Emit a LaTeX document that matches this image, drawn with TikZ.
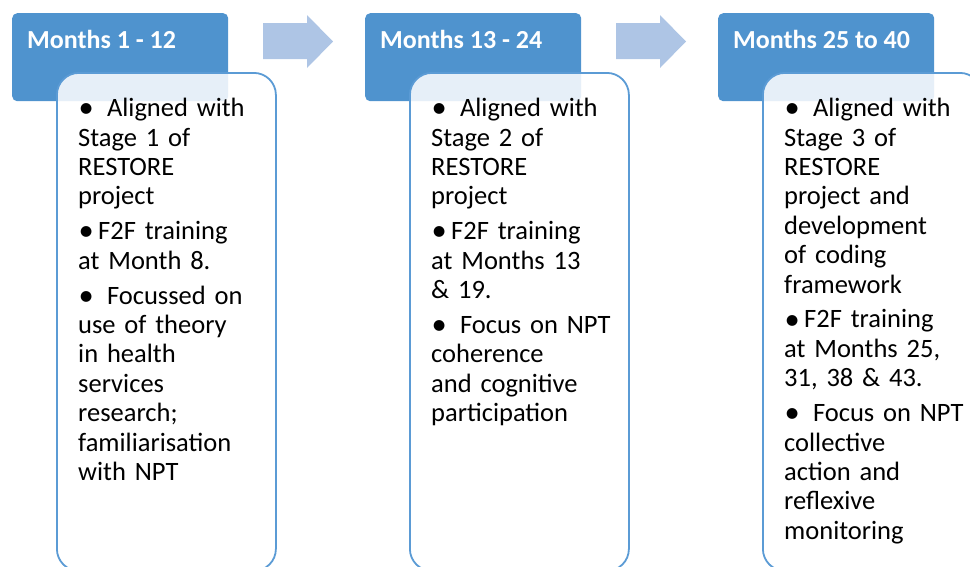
\documentclass[tikz,border=0pt]{standalone}
\usepackage{fontspec}
\usepackage{graphicx}
\setmainfont{Carlito}
\definecolor{hdrblue}{HTML}{4F93CE}
\definecolor{cardblue}{HTML}{5B9BD5}
\definecolor{arrowblue}{HTML}{AEC5E5}
\newcommand\bfnt{\fontsize{26.5}{29.4}\selectfont}
\newcommand\hfnt{\fontsize{26}{30}\selectfont\bfseries}
\newcommand\itm{\par\hangindent=20pt\hangafter=1\noindent\makebox[20pt][l]{\hspace{0.5pt}\raisebox{-1.2pt}{\scalebox{1.15}{•}}}}
\newcommand\bodysetup{\setlength\parskip{5.5pt}}
\newcommand\fst{\rule{0pt}{24pt}}
\tikzset{
  hdr/.style={fill=hdrblue, rounded corners=5pt, minimum width=216pt, minimum height=88pt, anchor=north west, inner sep=0pt},
  card/.style={fill=white, fill opacity=0.86, draw=cardblue, line width=1.8pt, rounded corners=22pt, minimum width=219pt, minimum height=498pt, anchor=north west, inner sep=0pt},
  htext/.style={anchor=base west, text=white, font=\hfnt, inner sep=0pt},
  body/.style={anchor=north west, inner sep=0pt, text width=200pt, font=\bfnt},
  blockarrow/.style={fill=arrowblue}
}
\begin{document}
\begin{tikzpicture}[x=1pt,y=-1pt]
\useasboundingbox (0,0) rectangle (970,566);
\clip (0,0) rectangle (970,566);
% headers
\node[hdr] (h1) at (12,13) {};
\node[hdr] (h2) at (365,13) {};
\node[hdr] (h3) at (718,13) {};
\node[htext] (t1) at (27,48) {Months 1 - 12};
\node[htext] (t2) at (380,48) {Months 13 - 24};
\node[htext] (t3) at (733,48) {Months 25 to 40};
% arrows
\foreach \dx in {0,353}{
  \fill[blockarrow, xshift=\dx pt] (263,23) -- (307,23) -- (307,15) -- (333,41.5) -- (307,68) -- (307,59) -- (263,59) -- cycle;
}
% cards
\node[card] (c1) at (56,72) {};
\node[card] (c2) at (409,72) {};
\node[card] (c3) at (762,72) {};
% texts
\node[body] (b1) at (78,81.5) {\bodysetup
\itm\fst\ Aligned with\\Stage 1 of\\RESTORE\\project
\itm F2F training\\at Month 8.
\itm\ Focussed on\\use of theory\\in health\\services\\research;\\familiarisation\\with NPT\par};
\node[body] (b2) at (431,81.5) {\bodysetup
\itm\fst\ Aligned with\\Stage 2 of\\RESTORE\\project
\itm F2F training\\at Months 13\\\& 19.
\itm\ Focus on NPT\\coherence\\and cognitive\\participation\par};
\node[body] (b3) at (784,81.5) {\bodysetup
\itm\fst\ Aligned with\\Stage 3 of\\RESTORE\\project and\\development\\of coding\\framework
\itm F2F training\\at Months 25,\\31, 38 \& 43.
\itm\ Focus on NPT\\collective\\action and\\reflexive\\monitoring\par};
\end{tikzpicture}
\end{document}
